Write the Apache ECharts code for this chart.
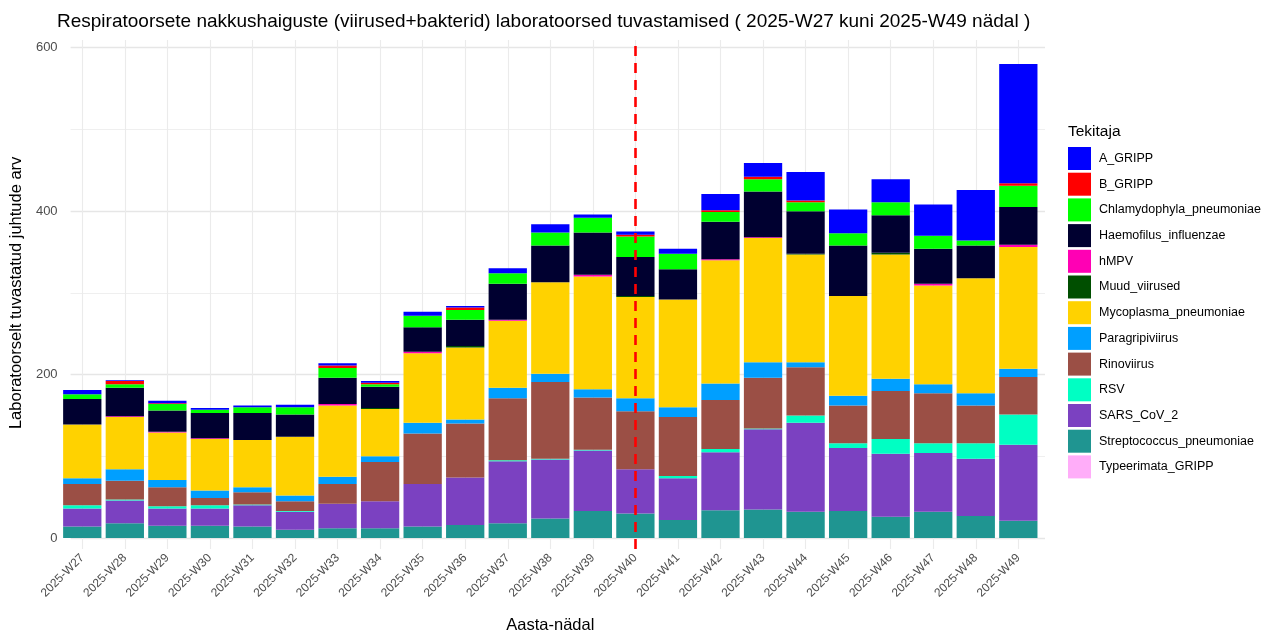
<!DOCTYPE html>
<html>
<head>
<meta charset="utf-8">
<script src="https://cdn.jsdelivr.net/npm/echarts@6/dist/echarts.min.js"></script>
<style>
html,body{margin:0;padding:0;background:#fff;}
#chart{width:1269px;height:639px;}
</style>
</head>
<body>
<div id="chart"></div>
<script>
var weeks = ['2025-W27','2025-W28','2025-W29','2025-W30','2025-W31','2025-W32','2025-W33','2025-W34','2025-W35','2025-W36','2025-W37','2025-W38','2025-W39','2025-W40','2025-W41','2025-W42','2025-W43','2025-W44','2025-W45','2025-W46','2025-W47','2025-W48','2025-W49'];
var yTicks = [0, 200, 400, 600];

var typeerimata_GRIPP = [0,0,0,0,0,0,0,0,0,0,0,0,0,0,0,0,0,0,0,0,0,0,0];
var streptococcus_pneumoniae = [14,18,15,15,14,10,12,12,14,16,18,24,33,30,22,34,35,32,33,26,32,27,21];
var sars_CoV_2 = [22,28,21,21,26,22,30,33,52,58,76,72,74,54,51,71,98,109,77,77,72,70,93];
var rsv = [4,1,3,4,1,1,0,0,0,0,1,1,1,0,3,4,1,9,6,18,12,19,37];
var rinoviirus = [26,23,23,9,15,12,24,48,62,66,76,94,64,71,72,60,62,59,46,59,61,46,46];
var paragripiviirus = [7,14,9,9,6,7,9,7,13,5,13,10,10,16,12,20,19,6,12,15,11,15,10];
var mycoplasma_pneumoniae = [66,64,58,63,58,72,87,58,85,88,82,112,138,124,132,151,152,132,122,152,121,141,149];
var muud_viirused = [0,0,0,0,0,0,0,1,0,2,0,0,0,1,0,0,0,1,0,2,0,0,0];
var hMPV = [0,1,1,1,0,0,2,0,2,0,1,0,2,0,0,1,1,0,0,0,2,0,3];
var haemofilus_influenzae = [31,35,26,31,33,27,32,26,30,32,44,45,52,48,37,46,56,52,62,46,43,40,46];
var chlamydophyla_pneumoniae = [6,4,8,4,7,9,12,3,14,12,13,16,18,25,19,12,15,11,15,16,16,6,26];
var b_GRIPP = [0,4,1,0,0,0,3,2,0,3,0,0,0,2,0,2,3,2,0,0,0,0,3];
var a_GRIPP = [5,1,3,2,2,3,3,2,5,2,6,10,4,4,6,20,17,35,29,28,38,62,146];

var markerWeek = '2025-W40';

// bottom-to-top stacking order
var stackOrder = [
  ['Typeerimata_GRIPP', typeerimata_GRIPP, '#FFADF9'],
  ['Streptococcus_pneumoniae', streptococcus_pneumoniae, '#1F9591'],
  ['SARS_CoV_2', sars_CoV_2, '#7B41C1'],
  ['RSV', rsv, '#00FFC3'],
  ['Rinoviirus', rinoviirus, '#9B4F45'],
  ['Paragripiviirus', paragripiviirus, '#009FFF'],
  ['Mycoplasma_pneumoniae', mycoplasma_pneumoniae, '#FFD200'],
  ['Muud_viirused', muud_viirused, '#004F00'],
  ['hMPV', hMPV, '#FF00B4'],
  ['Haemofilus_influenzae', haemofilus_influenzae, '#000030'],
  ['Chlamydophyla_pneumoniae', chlamydophyla_pneumoniae, '#00FF00'],
  ['B_GRIPP', b_GRIPP, '#FF0000'],
  ['A_GRIPP', a_GRIPP, '#0000FF']
];
var legendOrder = stackOrder.map(function(s){return s[0];}).reverse();

var FONT = '"Liberation Sans", Arial, sans-serif';

var series = [];
// vertical gridlines at category centres (bottom layer)
series.push({
  type: 'line', xAxisIndex: 1, yAxisIndex: 1, data: [], silent: true, zlevel: 0, z: 0,
  markLine: {
    silent: true, symbol: ['none','none'], label: {show:false}, zlevel: 0, z: 0,
    lineStyle: {color:'#ebebeb', width:1.1, type:'solid'},
    animation: false,
    data: weeks.map(function(w){ return {xAxis: w}; })
  }
});
stackOrder.forEach(function(s){
  series.push({
    name: s[0], type: 'bar', stack: 'total', xAxisIndex: 2, yAxisIndex: 2,
    barWidth: '90%', data: s[1], itemStyle: {color: s[2]}, zlevel: 1, z: 2
  });
});
// red dashed marker line (top layer)
series.push({
  type: 'line', xAxisIndex: 1, yAxisIndex: 1, data: [], silent: true, zlevel: 2, z: 10,
  markLine: {
    silent: true, symbol: ['none','none'], label: {show:false}, zlevel: 2, z: 10,
    lineStyle: {color:'#FF0000', width:2.6, type:[10,7]},
    animation: false,
    data: [{xAxis: markerWeek}]
  }
});

var chart = echarts.init(document.getElementById('chart'), null, {renderer:'canvas'});
chart.setOption({
  animation: false,
  backgroundColor: '#ffffff',
  textStyle: {fontFamily: FONT},
  title: [
    {text: 'Respiratoorsete nakkushaiguste (viirused+bakterid) laboratoorsed tuvastamised ( 2025-W27 kuni 2025-W49 nädal )',
     left: 57, top: 12, padding: 0, textStyle: {fontSize: 19, fontWeight: 'normal', color: '#000', fontFamily: FONT}},
    {text: 'Tekitaja', left: 1068, top: 124, padding: 0, textStyle: {fontSize: 15.5, fontWeight: 'normal', color: '#000', fontFamily: FONT}}
  ],
  legend: {
    data: legendOrder, orient: 'vertical', left: 1068, top: 147, padding: 0,
    itemWidth: 23, itemHeight: 23, itemGap: 2.7, icon: 'rect',
    textStyle: {fontSize: 12.5, color: '#000', fontFamily: FONT, padding: [0,0,0,3]},
    selectedMode: false
  },
  grid: [
    {left: 57, right: 224, top: 47.7, bottom: 101, containLabel: false},
    {left: 61, width: 978.6, top: 40, bottom: 77, containLabel: false},
    {left: 61, width: 978.6, top: 47.7, bottom: 101, containLabel: false}
  ],
  xAxis: [
    {gridIndex: 0, type: 'value', min: 0, max: 1, show: false},
    {gridIndex: 1, type: 'category', data: weeks, boundaryGap: true,
     axisLine: {show:false}, axisTick: {show:false}, splitLine: {show:false},
     axisLabel: {rotate: 45, interval: 0, fontSize: 12, color: '#4d4d4d', margin: 7, fontFamily: FONT},
     name: 'Aasta-nädal', nameLocation: 'middle', nameGap: 68,
     nameTextStyle: {fontSize: 16.5, color: '#000', fontFamily: FONT}},
    {gridIndex: 2, type: 'category', data: weeks, boundaryGap: true, show: false}
  ],
  yAxis: [
    {gridIndex: 0, type: 'value', min: yTicks[0], max: yTicks[yTicks.length-1], interval: 200,
     axisLine: {show:false}, axisTick: {show:false},
     axisLabel: {fontSize: 13, color: '#4d4d4d', margin: 13, fontFamily: FONT},
     splitLine: {show: true, lineStyle: {color: '#e6e6e6', width: 1.3}},
     minorTick: {show: false, splitNumber: 2},
     minorSplitLine: {show: true, lineStyle: {color: '#efefef', width: 1}},
     name: 'Laboratoorselt tuvastatud juhtude arv', nameLocation: 'middle', nameGap: 36,
     nameTextStyle: {fontSize: 16.5, color: '#000', fontFamily: FONT}},
    {gridIndex: 1, type: 'value', min: 0, max: 1, show: false},
    {gridIndex: 2, type: 'value', min: yTicks[0], max: yTicks[yTicks.length-1], show: false}
  ],
  series: series
});
</script>
</body>
</html>
